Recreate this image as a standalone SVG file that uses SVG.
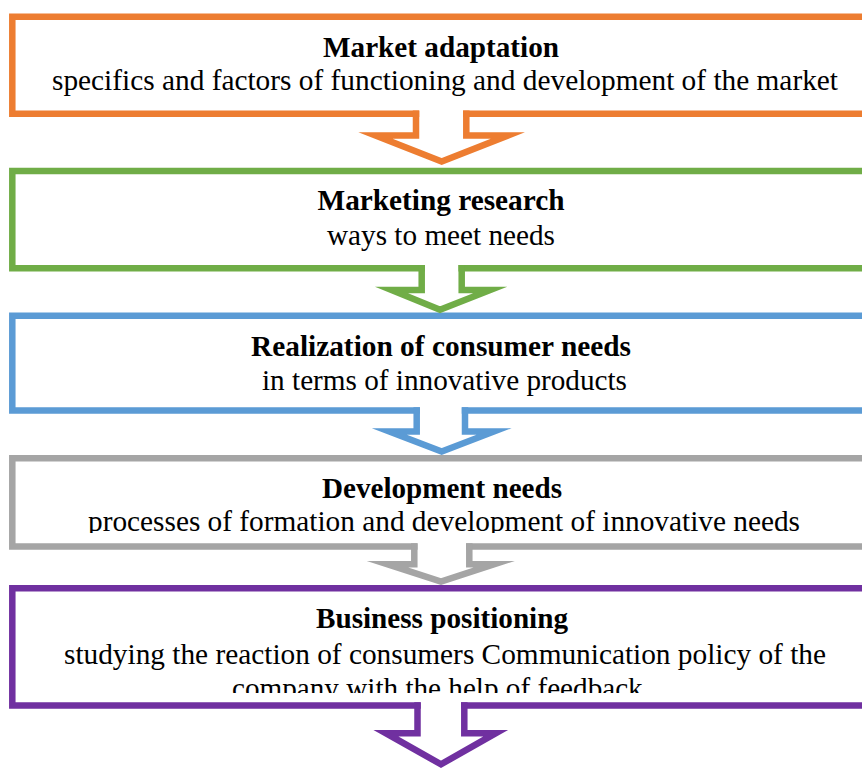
<svg xmlns="http://www.w3.org/2000/svg" width="862" height="769" viewBox="0 0 862 769">
<style>
.box{fill:none;stroke-width:6.5;stroke-linecap:square;stroke-linejoin:miter}
.arr{fill:none;stroke-width:6.5;stroke-linecap:square;stroke-linejoin:miter;stroke-miterlimit:10}
text{font-family:'Liberation Serif','Times New Roman',Tinos,'Nimbus Roman',FreeSerif,'Noto Serif','DejaVu Serif',serif;fill:#000;text-anchor:middle}
.t{font-weight:bold;font-size:29.5px}
.s{font-weight:400;font-style:normal;font-size:30px}
.o{stroke:#ED7D31}.g{stroke:#70AD47}.b{stroke:#5B9BD5}.y{stroke:#A5A5A5}.p{stroke:#7030A0}
</style>
<defs>
<clipPath id="c4"><rect x="0" y="462" width="862" height="71"/></clipPath>
<clipPath id="c5"><rect x="0" y="592" width="862" height="101"/></clipPath>
</defs>
<rect width="862" height="769" fill="#fff"/>
<g id="node-1">
<path class="box o" d="M880,113.7 H466.3 M416,113.7 H12.3 V16.7 H880"/>
<text class="t" x="441" y="57" textLength="236" lengthAdjust="spacingAndGlyphs">Market adaptation</text>
<text class="s" x="445" y="90" textLength="786" lengthAdjust="spacingAndGlyphs">specifics and factors of functioning and development of the market</text>
</g>
<g id="node-2">
<path class="box g" d="M880,268.3 H461.7 M421.7,268.3 H12.3 V171 H880"/>
<text class="t" x="441" y="210" textLength="247" lengthAdjust="spacingAndGlyphs">Marketing research</text>
<text class="s" x="441" y="245" textLength="228" lengthAdjust="spacingAndGlyphs">ways to meet needs</text>
</g>
<g id="node-3">
<path class="box b" d="M880,410.5 H465 M416.7,410.5 H12.3 V315.7 H880"/>
<text class="t" x="441" y="356" textLength="380" lengthAdjust="spacingAndGlyphs">Realization of consumer needs</text>
<text class="s" x="444.5" y="390" textLength="365" lengthAdjust="spacingAndGlyphs">in terms of innovative products</text>
</g>
<g id="node-4">
<path class="box y" d="M880,546.5 H469.3 M414.3,546.5 H12.3 V458.3 H880"/>
<text class="t" x="442" y="498" textLength="240" lengthAdjust="spacingAndGlyphs">Development needs</text>
<text class="s" x="444" y="531" clip-path="url(#c4)" textLength="712" lengthAdjust="spacingAndGlyphs">processes of formation and development of innovative needs</text>
</g>
<g id="node-5">
<path class="box p" d="M880,705.5 H464.3 M417.5,705.5 H12.3 V588.3 H880"/>
<text class="t" x="442" y="628" textLength="252" lengthAdjust="spacingAndGlyphs">Business positioning</text>
<g clip-path="url(#c5)">
<text class="s" x="445" y="664" textLength="762" lengthAdjust="spacingAndGlyphs">studying the reaction of consumers Communication policy of the</text>
<text class="s" x="441" y="698" textLength="418" lengthAdjust="spacingAndGlyphs">company with the help of feedback.</text>
</g>
</g>
<g id="connectors">
<path class="arr o" d="M416,113.7 V135.5 H375.5 L441.7,161.5 L507.8,135.5 H466.3 V113.7"/>
<path class="arr g" d="M421.7,268.3 V290 H391.5 L440,309.8 L490.2,290 H461.7 V268.3"/>
<path class="arr b" d="M416.7,410.5 V431.5 H389.4 L441.7,451.5 L494,431.5 H465 V410.5"/>
<path class="arr y" d="M414.3,546.5 V564.2 H387.3 L441,581.6 L494.4,564.2 H469.3 V546.5"/>
<path class="arr p" d="M417.5,705.5 V733.2 H385.8 L441,764.3 L495.8,733.2 H464.3 V705.5"/>
</g>
</svg>
